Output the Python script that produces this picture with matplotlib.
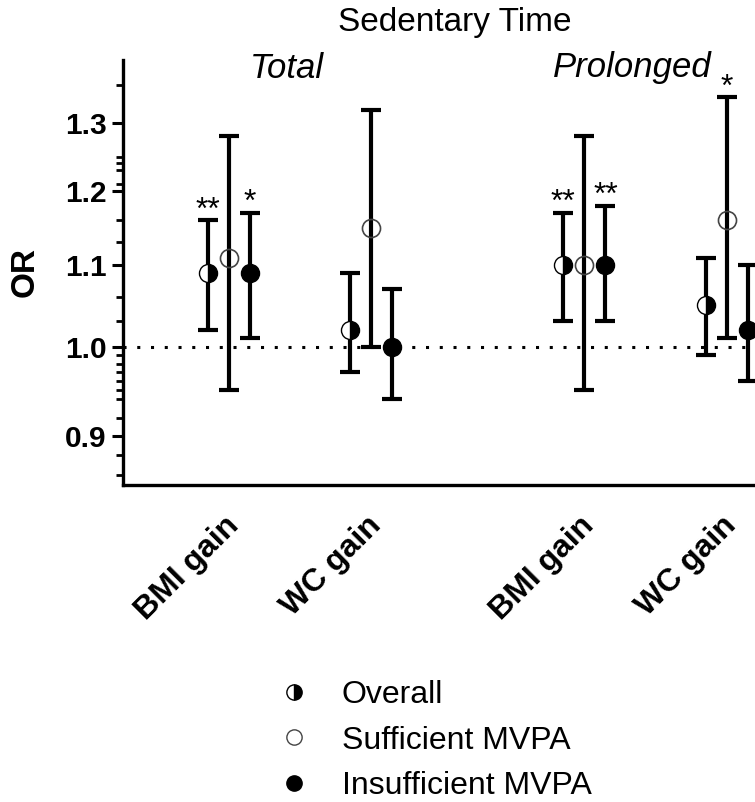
import numpy as np
import matplotlib
matplotlib.use("Agg")
import matplotlib.pyplot as plt
import matplotlib.transforms as mtrans
from matplotlib.lines import Line2D
from matplotlib.ticker import FixedLocator, NullFormatter

plt.rcParams.update({"font.family": ["Liberation Sans", "DejaVu Sans"]})

# ---- data (odds ratios with 95% CI) ----
outcomes = ["BMI gain", "WC gain", "BMI gain", "WC gain"]
overall_or = [1.09, 1.02, 1.10, 1.05]
overall_lo = [1.02, 0.97, 1.03, 0.99]
overall_hi = [1.16, 1.09, 1.17, 1.11]
suff_or = [1.11, 1.15, 1.10, 1.16]
suff_lo = [0.95, 1.00, 0.95, 1.01]
suff_hi = [1.28, 1.32, 1.28, 1.34]
insuff_or = [1.09, 1.00, 1.10, 1.02]
insuff_lo = [1.01, 0.94, 1.03, 0.96]
insuff_hi = [1.17, 1.07, 1.18, 1.10]
overall_sig = ["**", "", "**", ""]
suff_sig = ["", "", "", "*"]
insuff_sig = ["*", "", "**", ""]

xpos = np.array([0, 1, 2.5, 3.5])
OFF = 0.148
LW = 3

fig = plt.figure(figsize=(7.55, 8.02), dpi=100)
ax = fig.add_axes([0.163, 0.3953, 0.837, 0.5299])
ax.set_yscale("log")
ax.set_ylim(0.85, 1.40)
ax.set_xlim(-0.746, 3.70)

ax.axhline(1.0, color="k", lw=2.2, ls=(0, (1, 3.5)), zorder=1)

def series(dx, orv, lo, hi, sig, style):
    x = xpos + dx
    orv, lo, hi = np.array(orv), np.array(lo), np.array(hi)
    ax.errorbar(x, orv, yerr=[orv - lo, hi - orv], fmt="none", ecolor="k",
                elinewidth=LW, capsize=7, capthick=LW, zorder=2)
    ax.plot(x, orv, ls="none", zorder=3, **style)
    for xi, h, s in zip(x, hi, sig):
        if s:
            ax.annotate(s, (xi, h), xytext=(0, -4), textcoords="offset points",
                        ha="center", va="bottom", fontsize=23)

st_over = dict(marker="o", ms=13, mfc="k", mfcalt="white", fillstyle="right", mec="k", mew=1)
st_suff = dict(marker="o", ms=13, mfc="none", mec="#444444", mew=1.2)
st_insuff = dict(marker="o", ms=13, mfc="k", mec="k", mew=1)

series(-OFF, overall_or, overall_lo, overall_hi, overall_sig, st_over)
series(0, suff_or, suff_lo, suff_hi, suff_sig, st_suff)
series(OFF, insuff_or, insuff_lo, insuff_hi, insuff_sig, st_insuff)

for s in ["top", "right"]:
    ax.spines[s].set_visible(False)
for s in ["left", "bottom"]:
    ax.spines[s].set_linewidth(2.4)

ax.yaxis.set_major_locator(FixedLocator([0.9, 1.0, 1.1, 1.2, 1.3]))
ax.set_yticklabels(["0.9", "1.0", "1.1", "1.2", "1.3"], fontsize=21.5, fontweight="bold")
ax.yaxis.set_minor_locator(FixedLocator([0.86, 0.88, 0.92, 0.94, 0.95, 0.96, 0.97, 0.98, 0.99,
                                         1.03, 1.06, 1.13, 1.16, 1.21, 1.23, 1.24, 1.25, 1.36]))
ax.yaxis.set_minor_formatter(NullFormatter())
ax.tick_params(axis="y", which="major", length=8, width=2.2, pad=4)
ax.tick_params(axis="y", which="minor", length=5, width=2)
ax.set_ylabel("OR", fontsize=24, fontweight="bold", labelpad=17)

ax.set_xticks(xpos)
ax.set_xticklabels(outcomes, rotation=45, ha="right", va="center", rotation_mode="anchor",
                   fontsize=23, fontweight="bold")
ax.tick_params(axis="x", length=0, pad=26)
shift = mtrans.ScaledTranslation(5 / 100, 0, fig.dpi_scale_trans)
for lab in ax.get_xticklabels():
    lab.set_transform(lab.get_transform() + shift)

fig.text(455 / 755, 1 - 23 / 802, "Sedentary Time", ha="center", va="center", fontsize=24)
fig.text(287 / 755, 1 - 68 / 802, "Total", ha="center", va="center", fontsize=25, style="italic")
fig.text(632 / 755, 1 - 68 / 802, "Prolonged", ha="center", va="center", fontsize=25, style="italic")

handles = [
    Line2D([], [], ls="none", marker="o", ms=11, mfc="k", mfcalt="white", fillstyle="right", mec="k", mew=1),
    Line2D([], [], ls="none", marker="o", ms=11, mfc="none", mec="#444444", mew=1),
    Line2D([], [], ls="none", marker="o", ms=11, mfc="k", mec="k", mew=1),
]
fig.legend(handles, ["Overall", "Sufficient MVPA", "Insufficient MVPA"],
           loc="upper left", bbox_to_anchor=(278 / 755, 1 - 680 / 802), bbox_transform=fig.transFigure,
           frameon=False, fontsize=23, handlelength=1.0, handletextpad=1.0,
           labelspacing=0.49, borderpad=0, borderaxespad=0)

fig.savefig("out.png", dpi=100)
